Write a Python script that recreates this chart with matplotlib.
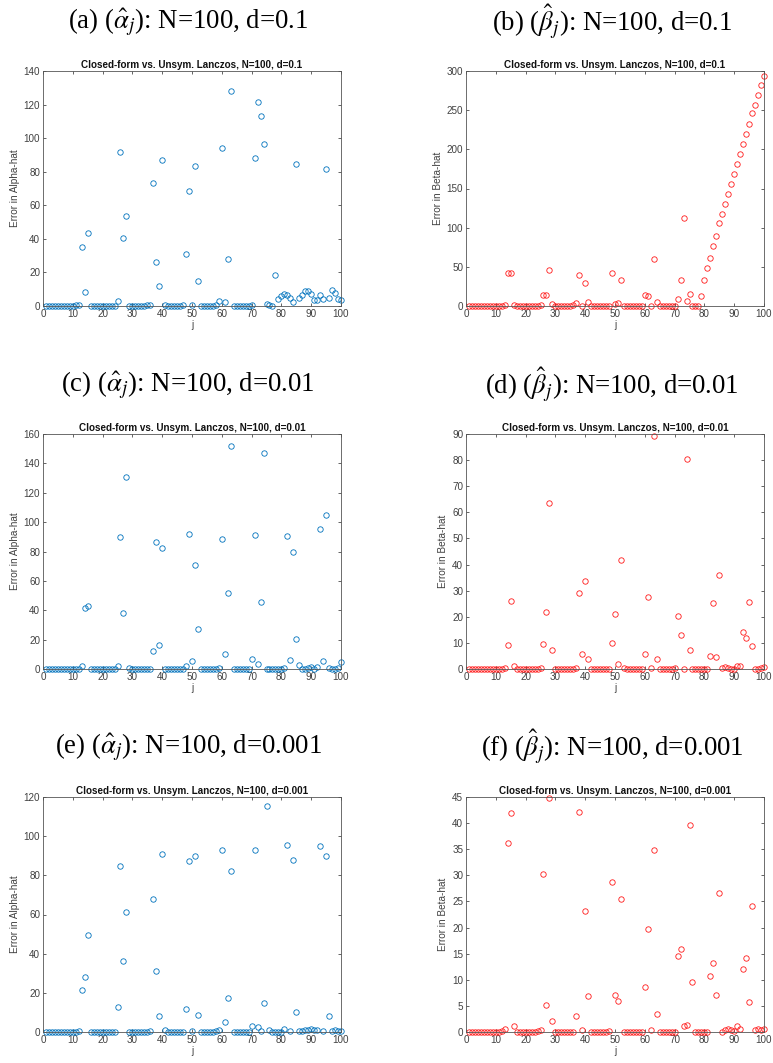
import matplotlib
matplotlib.use("Agg")
import matplotlib.pyplot as plt

plt.rcParams['mathtext.fontset'] = 'stix'

j = list(range(1, 101))

alpha_d01 = [0, 0, 0, 0, 0, 0, 0, 0, 0, 0, 0.3, 0.5,
             35.1, 8.1, 43.7,
             0, 0, 0, 0, 0, 0, 0, 0, 0.2,
             3.0, 91.5, 40.7, 53.8,
             0, 0, 0, 0, 0, 0, 0.3, 0.5,
             73.5, 26.0, 11.9, 86.8,
             0.5, 0, 0, 0, 0, 0.2, 0.3,
             31.2, 68.5, 0.8, 83.6, 15.1,
             0, 0, 0, 0, 0, 0.3,
             2.8, 94.1, 2.4, 28.2, 127.9,
             0, 0, 0, 0, 0, 0.2,
             0.8, 88.0, 121.3, 113.0, 96.3, 1.4, 0.4, 0, 18.7, 4.0,
             6.2, 7.0, 6.8, 5.0, 2.6, 84.6, 4.8, 6.6, 8.9, 8.9,
             7.0, 3.8, 3.8, 6.8, 4.2, 81.4, 4.8, 9.3, 7.9, 4.0, 3.8]

beta_d01 = [0, 0, 0, 0, 0, 0, 0, 0, 0, 0, 0, 0.3, 1.3,
            41.7, 42.5, 1.3,
            0, 0, 0, 0, 0, 0, 0, 0.5,
            1.5, 14.0, 13.6, 46.0, 2.0,
            0, 0, 0, 0, 0, 0.5, 1.7,
            4.3, 39.0, 0, 29.0, 5.1,
            0, 0, 0, 0, 0, 0.3, 0.5,
            42.1, 3.0, 4.3, 33.2,
            0, 0, 0, 0, 0, 0.3, 0.5,
            13.6, 12.8, 0, 60.0, 5.1,
            0, 0, 0, 0, 0, 0,
            8.5, 33.2, 112.8, 6.4, 14.9, 0, 0, 0, 12.8, 33.2,
            48.5, 61.7, 76.2, 89.8, 106.0, 117.0, 129.8, 142.6, 155.7, 168.0,
            181.3, 194.0, 206.4, 219.0, 232.3, 246.0, 256.0, 269.0, 281.7, 293.6]

alpha_d001 = [0, 0, 0, 0, 0, 0, 0, 0, 0, 0, 0, 0.3,
              2.0, 41.3, 42.9,
              0, 0, 0, 0, 0, 0, 0, 0, 0.3,
              1.8, 89.9, 38.4, 130.7, 0.7,
              0, 0, 0, 0, 0, 0, 0.3,
              12.0, 86.5, 16.3, 82.2,
              0, 0, 0, 0, 0, 0, 0.3,
              1.8, 91.9, 5.2, 70.8, 27.5,
              0, 0, 0, 0, 0, 0.3,
              0.7, 88.7, 10.2, 52.0, 152.0,
              0, 0, 0, 0, 0, 0,
              7.0, 91.5, 3.4, 45.4, 146.8,
              0, 0, 0, 0, 0, 0, 0.7,
              90.6, 5.9, 79.9, 20.7, 2.5, 0, 0, 0.7, 1.6, 0,
              1.6, 95.1, 5.7, 104.9, 0.9, 0, 0, 0.7, 4.5]

beta_d001 = [0, 0, 0, 0, 0, 0, 0, 0, 0, 0, 0, 0,
             0.3, 9.3, 25.9, 1.1,
             0, 0, 0, 0, 0, 0, 0, 0,
             0.3, 9.4, 22.0, 63.6, 7.1,
             0, 0, 0, 0, 0, 0, 0,
             0.4, 29.1, 5.9, 33.7, 3.8,
             0, 0, 0, 0, 0, 0, 0,
             10.1, 21.1, 1.9, 41.9, 0.4,
             0, 0, 0, 0, 0, 0,
             5.6, 27.6, 0.4, 89.4, 4.0,
             0, 0, 0, 0, 0, 0.4,
             20.3, 12.9, 0, 80.6, 7.1,
             0, 0, 0, 0, 0, 0,
             5.1, 25.1, 4.6, 35.9, 0.4, 0.8, 0.4, 0, 0, 1.0,
             1.0, 14.2, 11.9, 25.7, 8.7, 0, 0, 0.3, 0.6]

alpha_d0001 = [0, 0, 0, 0, 0, 0, 0, 0, 0, 0, 0, 0.5,
               21.6, 27.9, 49.5,
               0, 0, 0, 0, 0, 0, 0, 0, 0,
               12.6, 84.6, 36.1, 61.3,
               0, 0, 0, 0, 0, 0, 0, 0.3,
               68.1, 31.1, 8.0, 90.7, 0.9,
               0, 0, 0, 0, 0, 0,
               11.6, 87.1, 0.3, 89.7, 8.5,
               0, 0, 0, 0, 0, 0.5,
               1.2, 93.1, 4.9, 17.2, 82.0,
               0, 0, 0, 0, 0, 0,
               3.2, 92.8, 2.6, 0.3, 15.0, 115.6, 0.9,
               0, 0, 0, 0,
               1.5, 95.3, 0.3, 87.7, 10.0, 0.3, 0.5, 0.9, 1.0, 1.4,
               1.0, 0.9, 95.0, 0.3, 89.9, 8.0, 0.5, 0.9, 0.5, 0.7]

beta_d0001 = [0, 0, 0, 0, 0, 0, 0, 0, 0, 0, 0, 0.1,
              0.5, 36.2, 42.0, 1.2,
              0, 0, 0, 0, 0, 0, 0, 0.1,
              0.3, 30.2, 5.2, 44.9, 2.1,
              0, 0, 0, 0, 0, 0, 0,
              3.0, 42.2, 0.4, 23.2, 6.9,
              0, 0, 0, 0, 0, 0, 0.2,
              28.7, 7.0, 6.0, 25.4,
              0, 0, 0, 0, 0, 0, 0,
              8.6, 19.7, 0.4, 34.9, 3.5,
              0, 0, 0, 0, 0, 0,
              14.6, 15.9, 1.2, 1.3, 39.6, 9.6,
              0, 0, 0, 0, 0,
              10.7, 13.3, 7.1, 26.7, 0, 0.3, 0.5, 0.3, 0.1, 1.1,
              0.6, 12.0, 14.2, 5.7, 24.2, 0.3, 0.5, 0.4, 0.5]

captions = [r'(a) ($\hat{\alpha}_j$): N=100, d=0.1',
            r'(b) ($\hat{\beta}_j$): N=100, d=0.1',
            r'(c) ($\hat{\alpha}_j$): N=100, d=0.01',
            r'(d) ($\hat{\beta}_j$): N=100, d=0.01',
            r'(e) ($\hat{\alpha}_j$): N=100, d=0.001',
            r'(f) ($\hat{\beta}_j$): N=100, d=0.001']
d_labels = ['0.1', '0.1', '0.01', '0.01', '0.001', '0.001']
series = [alpha_d01, beta_d01, alpha_d001, beta_d001, alpha_d0001, beta_d0001]
ylims = [140, 300, 160, 90, 120, 45]
ysteps = [20, 50, 20, 10, 20, 5]

W, H = 773, 1063
fig = plt.figure(figsize=(W / 100, H / 100), dpi=100)

lefts = [43, 466]
tops = [71, 434, 797]
ax_w, ax_h = 298, 235
cap_y = [22, 385, 747]
cap_x = [188, 612]

axis_col = '#262626'
for k in range(6):
    row, col = k // 2, k % 2
    left = lefts[col]
    top = tops[row]
    ax = fig.add_axes([left / W, 1 - (top + ax_h) / H, ax_w / W, ax_h / H])
    is_alpha = (col == 0)
    color = '#0072BD' if is_alpha else '#ff1a1a'
    ax.plot(j, series[k], linestyle='none', marker='o', markersize=3.9,
            markerfacecolor='none', markeredgecolor=color, markeredgewidth=0.6,
            clip_on=False)
    ax.set_xlim(0, 100)
    ax.set_ylim(0, ylims[k])
    ax.set_xticks(range(0, 101, 10))
    ax.set_yticks(range(0, ylims[k] + 1, ysteps[k]))
    ax.tick_params(direction='in', length=2.2, width=0.5, labelsize=7.1,
                   colors=axis_col, labelcolor='#404040', top=True, right=True, pad=2)
    for sp in ax.spines.values():
        sp.set_color('#555555')
        sp.set_linewidth(0.6)
    ax.set_title('Closed-form vs. Unsym. Lanczos, N=100, d=' + d_labels[k],
                 fontsize=7.1, fontweight='bold', family='Liberation Sans', pad=2,
                 color='#111111')
    ax.set_xlabel('j', fontsize=7.2, color='#404040', labelpad=1)
    ax.set_ylabel('Error in Alpha-hat' if is_alpha else 'Error in Beta-hat',
                  fontsize=7.2, color='#404040', labelpad=3)
    for lab in ax.get_xticklabels() + ax.get_yticklabels():
        lab.set_family('Liberation Sans')
    ax.xaxis.label.set_family('Liberation Sans')
    ax.yaxis.label.set_family('Liberation Sans')

    fig.text(cap_x[col] / W, 1 - cap_y[row] / H, captions[k], ha='center', va='center',
             fontsize=19.3, family='Liberation Serif')

fig.savefig('out.png', dpi=100)
